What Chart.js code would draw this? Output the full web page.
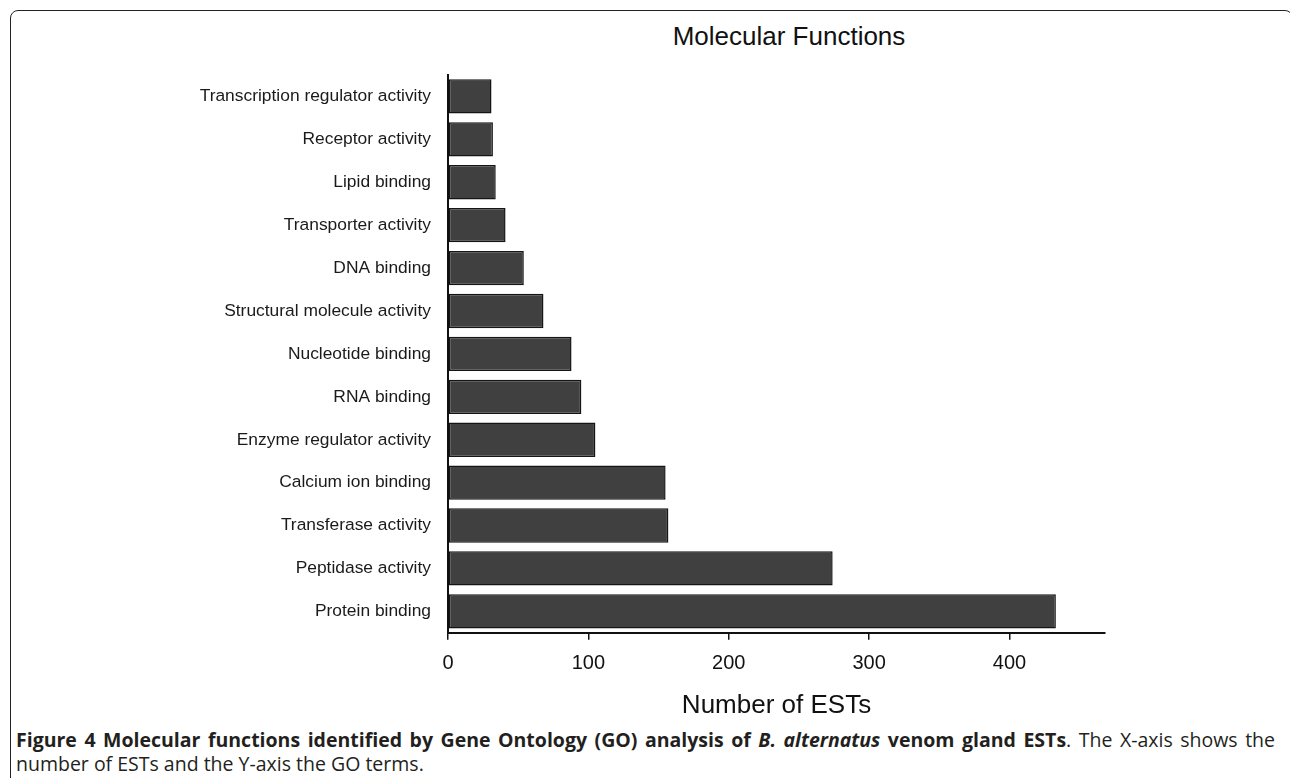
<!DOCTYPE html>
<html>
<head>
<meta charset="utf-8">
<script src="https://cdn.jsdelivr.net/npm/chart.js@4/dist/chart.umd.min.js"></script>
<style>
    body { margin: 0; background: #fff; width: 1290px; height: 778px; overflow: hidden; position: relative; }
    .frame { position: absolute; left: 10px; top: 10px; width: 1281px; height: 820px; border: 1px solid #222; border-radius: 8px; }
    .chart-box { position: absolute; left: 0; top: 0; width: 1290px; height: 725px; }
    .title { position: absolute; left: 589px; top: 21px; width: 400px; text-align: center;
             font: 26px "Liberation Sans", Arial, sans-serif; line-height: 30px; color: #111; }
    .caption { position: absolute; left: 16px; width: 1259px; font: 19.5px "Open Sans", sans-serif; color: #231f20; line-height: 24px; }
    .line1 { top: 728px; white-space: nowrap; text-align: justify; text-align-last: justify; }
    .line2 { top: 752px; }
</style>
</head>
<body>
<div class="frame"></div>
<div class="title">Molecular Functions</div>
<div class="chart-box"><canvas id="go-chart"></canvas></div>
<div class="caption line1"><b>Figure 4 Molecular functions identified by Gene Ontology (GO) analysis of <i>B. alternatus</i> venom gland ESTs</b>. The X-axis shows the</div>
<div class="caption line2">number of ESTs and the Y-axis the GO terms.</div>

<script>
// GO terms, top to bottom as in the figure
const goTerms = [
    'Transcription regulator activity',
    'Receptor activity',
    'Lipid binding',
    'Transporter activity',
    'DNA binding',
    'Structural molecule activity',
    'Nucleotide binding',
    'RNA binding',
    'Enzyme regulator activity',
    'Calcium ion binding',
    'Transferase activity',
    'Peptidase activity',
    'Protein binding'
];

// Number of ESTs per term
const estCounts = [31, 32, 34, 41, 54, 68, 88, 95, 105, 155, 157, 274, 433];

const xTicks = [0, 100, 200, 300, 400];
const xMax = 468;

const axisFont = "'Liberation Sans', Arial, sans-serif";

const ctx = document.getElementById('go-chart').getContext('2d');

new Chart(ctx, {
    type: 'bar',
    data: {
        labels: goTerms,
        datasets: [{
            label: 'Number of ESTs',
            data: estCounts,
            backgroundColor: '#404040',
            borderColor: '#151515',
            borderWidth: 1.5,
            borderSkipped: false,
            barPercentage: 0.8,
            categoryPercentage: 1.0
        }]
    },
    options: {
        indexAxis: 'y',
        responsive: true,
        maintainAspectRatio: false,
        animation: false,
        layout: { padding: { top: 75, right: 185, bottom: 0, left: 0 } },
        plugins: {
            legend: { display: false },
            tooltip: { enabled: false }
        },
        scales: {
            x: {
                type: 'linear',
                min: 0,
                max: xMax,
                afterBuildTicks: (scale) => {
                    scale.ticks = xTicks.map(v => ({ value: v }));
                },
                ticks: {
                    includeBounds: false,
                    color: '#111',
                    padding: 12,
                    font: { family: axisFont, size: 20 }
                },
                grid: {
                    display: true,
                    drawOnChartArea: false,
                    drawTicks: true,
                    tickLength: 7,
                    color: '#111',
                    lineWidth: 1.5
                },
                border: { display: true, color: '#111', width: 2 },
                title: {
                    display: true,
                    text: 'Number of ESTs',
                    color: '#111',
                    font: { family: axisFont, size: 26 },
                    padding: { top: 2, bottom: 4 }
                }
            },
            y: {
                afterFit: (scale) => { scale.width = 448; },
                ticks: {
                    color: '#1a1a1a',
                    padding: 17,
                    font: { family: axisFont, size: 17.4 }
                },
                grid: { display: false, drawTicks: false },
                border: { display: true, color: '#111', width: 2 }
            }
        }
    }
});
</script>
</body>
</html>
